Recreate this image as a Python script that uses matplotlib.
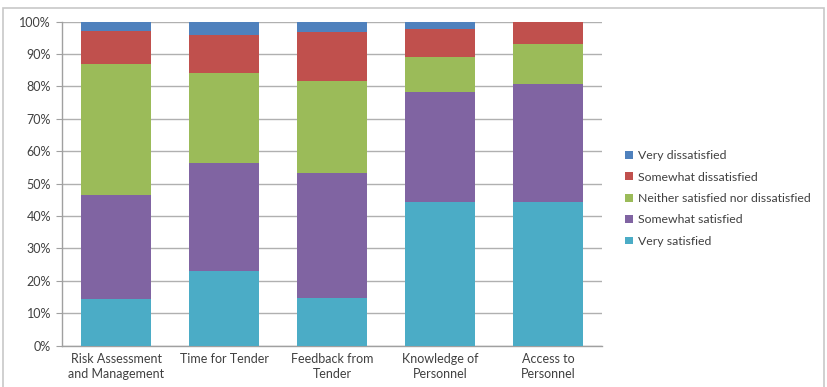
import matplotlib.pyplot as plt
import numpy as np
from matplotlib.patches import Rectangle

plt.rcParams['font.family'] = ['Lato', 'DejaVu Sans']

categories = ['Risk Assessment\nand Management', 'Time for Tender', 'Feedback from\nTender',
              'Knowledge of\nPersonnel', 'Access to\nPersonnel']
very_satisfied = [14.4, 23.1, 14.8, 44.4, 44.4]
somewhat_satisfied = [32.0, 33.2, 38.4, 33.8, 36.4]
neither = [40.6, 28.0, 28.5, 11.0, 12.2]
somewhat_dissatisfied = [10.0, 11.6, 15.0, 8.5, 7.0]
very_dissatisfied = [3.0, 4.1, 3.3, 2.3, 0.0]

series = [
    ('Very satisfied', very_satisfied, '#4BACC6'),
    ('Somewhat satisfied', somewhat_satisfied, '#8064A2'),
    ('Neither satisfied nor dissatisfied', neither, '#9BBB59'),
    ('Somewhat dissatisfied', somewhat_dissatisfied, '#C0504D'),
    ('Very dissatisfied', very_dissatisfied, '#4F81BD'),
]

fig = plt.figure(figsize=(8.27, 3.87), dpi=100)
ax = fig.add_axes([0.075, 0.107, 0.653, 0.837])

x = np.arange(len(categories))
bottom = np.zeros(len(categories))
handles = []
for name, vals, color in series:
    b = ax.bar(x, vals, 0.64, bottom=bottom, color=color, label=name, zorder=3)
    handles.append(b)
    bottom += np.array(vals)

ax.set_xlim(-0.5, 4.5)
ax.set_ylim(0, 100)
ax.set_yticks(np.arange(0, 101, 10))
ax.set_yticklabels(['%d%%' % v for v in range(0, 101, 10)], fontsize=9, color='#404040')
ax.set_xticks(x)
ax.set_xticklabels(categories, fontsize=9, color='#404040', linespacing=1.35)
ax.tick_params(axis='x', length=0, pad=5)
ax.tick_params(axis='y', length=4, color='#a0a0a0', pad=4)
ax.grid(axis='y', color='#b0b0b0', linewidth=1, zorder=0)
for s in ['top', 'right']:
    ax.spines[s].set_visible(False)
for s in ['left', 'bottom']:
    ax.spines[s].set_color('#a0a0a0')
    ax.spines[s].set_linewidth(1)

leg = fig.legend(handles[::-1], [s[0] for s in series][::-1], loc='center left',
                 bbox_to_anchor=(0.743, 0.487), frameon=False, fontsize=8.8,
                 handlelength=0.6, handleheight=0.6, handletextpad=0.4,
                 labelspacing=0.85, labelcolor='#404040')

fig.patches.append(Rectangle((0.004, -0.02), 0.992, 1.0, transform=fig.transFigure,
                             fill=False, edgecolor='#c8c8c8', linewidth=1.2))

fig.savefig('out.png', dpi=100)
